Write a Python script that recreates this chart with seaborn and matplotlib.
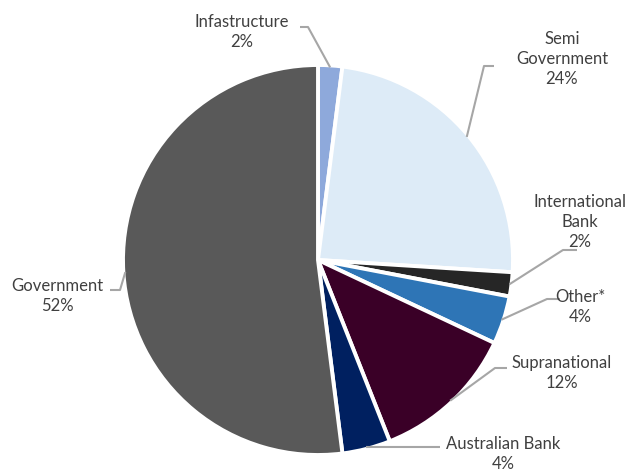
import numpy as np
import matplotlib
matplotlib.use("Agg")
import matplotlib.pyplot as plt
import seaborn as sns

# Portfolio composition by issuer type
categories = ["Infastructure", "Semi\nGovernment", "International\nBank", "Other*",
              "Supranational", "Australian Bank", "Government"]
shares = [2, 24, 2, 4, 12, 4, 52]
colors = ["#8EA9DB", "#DDEBF7", "#262626", "#2E75B6", "#3A0027", "#002060", "#595959"]

sns.set_theme(style="white")
plt.rcParams["font.family"] = ["Lato", "DejaVu Sans"]

W, H = 640, 473
fig = plt.figure(figsize=(W / 100, H / 100), dpi=100)
cx, cy, R = 318, 260, 195
ax = fig.add_axes([(cx - R) / W, (H - cy - R) / H, 2 * R / W, 2 * R / H])

wedges, _ = ax.pie(shares, colors=colors, startangle=90, counterclock=False,
                   radius=1.0, wedgeprops=dict(edgecolor="white", linewidth=2.8))
ax.set_xlim(-1, 1)
ax.set_ylim(-1, 1)
ax.set_aspect("equal")
ax.axis("off")


def to_data(px, py):
    return (px - cx) / R, (cy - py) / R


# label layout in pixel space: text centre, elbow point, line end near text
layout = [
    ((242, 32), (308, 27), (300, 27)),
    ((562, 59), (484, 66), (494, 66)),
    ((580, 222), (563, 250), (577, 250)),
    ((580, 307), (547, 299), (560, 299)),
    ((562, 373), (495, 368), (507, 368)),
    ((503, 454), (440, 447), (440, 447)),
    ((57, 296), (120, 290), (110, 290)),
]

cum = 0
for name, val, (tpos, elbow, end) in zip(categories, shares, layout):
    mid = np.deg2rad(90 - (cum + val / 2) * 3.6)
    cum += val
    ax_pt = (0.99 * np.cos(mid), 0.99 * np.sin(mid))
    e = to_data(*elbow)
    f = to_data(*end)
    ax.plot([ax_pt[0], e[0], f[0]], [ax_pt[1], e[1], f[1]], color="#A6A6A6",
            lw=1.5, clip_on=False, solid_capstyle="butt")
    tx, ty = to_data(*tpos)
    ax.text(tx, ty, f"{name}\n{val}%", ha="center", va="center", fontsize=12,
            color="#404040", linespacing=1.3, clip_on=False)

fig.savefig("out.png", dpi=100, facecolor="white")
